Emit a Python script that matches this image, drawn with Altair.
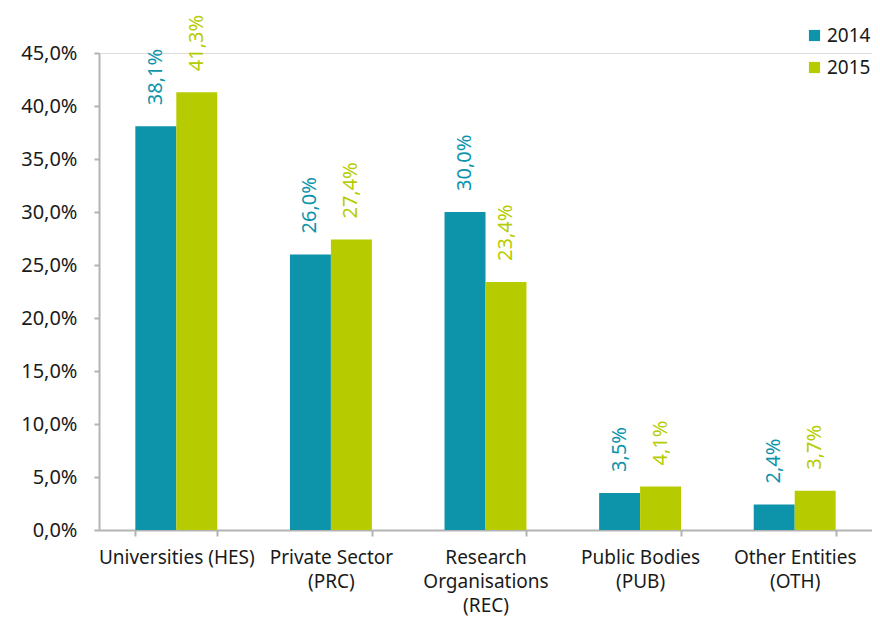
import altair as alt
import pandas as pd

categories = ["Universities (HES)", "Private Sector|(PRC)", "Research|Organisations|(REC)",
              "Public Bodies|(PUB)", "Other Entities|(OTH)"]
values_2014 = [38.1, 26.0, 30.0, 3.5, 2.4]
values_2015 = [41.3, 27.4, 23.4, 4.1, 3.7]
years = ["2014", "2015"]
colors = ["#0d94ab", "#b6cc00"]
y_ticks = [0, 5, 10, 15, 20, 25, 30, 35, 40, 45]

rows = []
for c, a, b in zip(categories, values_2014, values_2015):
    rows.append({"cat": c, "year": years[0], "val": a})
    rows.append({"cat": c, "year": years[1], "val": b})
df = pd.DataFrame(rows)

FONT = "Noto Sans"
TXT = "#1a1a1a"
GRAY = "#b3b3b3"

x = alt.X("cat:N", sort=categories, title=None,
          scale=alt.Scale(paddingInner=0.47, paddingOuter=0.235),
          axis=alt.Axis(labelExpr="split(datum.label, '|')", labelAngle=0,
                        labelFontSize=19, labelFont=FONT, labelColor=TXT,
                        labelLineHeight=24, labelPadding=12, labelBaseline="top",
                        tickBand="extent", tickSize=6, tickColor=GRAY,
                        domainColor=GRAY, domainWidth=2, tickWidth=2))
y = alt.Y("val:Q", title=None,
          scale=alt.Scale(domain=[0, 45], nice=False),
          axis=alt.Axis(values=y_ticks, grid=False,
                        labelExpr="replace(format(datum.value, '.1f'), '.', ',') + '%'",
                        labelFontSize=20, labelFont=FONT, labelColor=TXT, labelPadding=17,
                        tickSize=5, tickColor=GRAY, domainColor=GRAY, domainWidth=2, tickWidth=2))
color = alt.Color("year:N", scale=alt.Scale(domain=years, range=colors), title=None,
                  legend=alt.Legend(orient="none", legendX=706, legendY=-27, padding=0,
                                    symbolType="square", symbolSize=125, symbolStrokeWidth=0,
                                    labelFontSize=19, labelFont=FONT, labelColor=TXT,
                                    rowPadding=12, labelOffset=3))

base = alt.Chart(df).encode(x=x, xOffset=alt.XOffset("year:N", sort=years), y=y)

bars = base.mark_bar().encode(color=color)
labels = base.mark_text(angle=270, align="left", baseline="middle", dx=21,
                        fontSize=20, font=FONT).encode(
    text=alt.Text("lab:N"),
    color=alt.Color("year:N", scale=alt.Scale(domain=years, range=colors), legend=None),
).transform_calculate(lab="replace(format(datum.val, '.1f'), '.', ',') + '%'")

chart = (bars + labels).properties(
    width=773, height=477,
    padding={"left": 91, "top": 45, "right": 0, "bottom": 86},
    autosize=alt.AutoSizeParams(type="none"),
).configure_view(stroke=None).configure(font=FONT)

chart.save("out.html", embed_options={"renderer": "svg", "actions": False})
